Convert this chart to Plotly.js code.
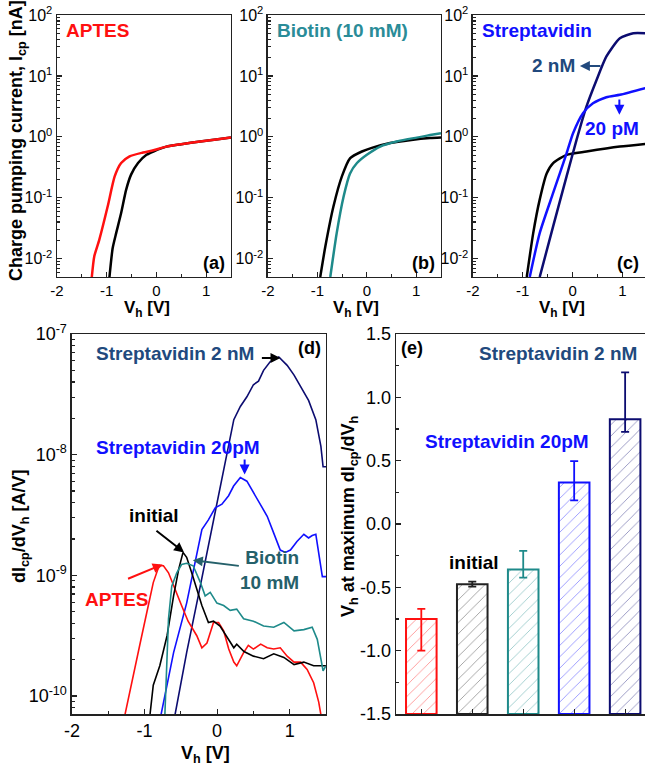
<!DOCTYPE html>
<html>
<head>
<meta charset="utf-8">
<script src="https://cdn.plot.ly/plotly-3.0.1.min.js"></script>
<style>html,body{margin:0;padding:0;background:#fff;}#chart{width:645px;height:767px;}</style>
</head>
<body>
<div id="chart"></div>
<script>
// ---------- DATA ----------
// Panel (a): I_cp [nA] vs V_h [V]
const aAptesX = [-1.30, -1.25, -1.15, -0.98, -0.84, -0.71, -0.54, -0.27, -0.06, 0.2, 0.5, 0.88, 1.2, 1.5];
const aAptesY = [0.005, 0.011, 0.0204, 0.0724, 0.224, 0.372, 0.479, 0.553, 0.603, 0.692, 0.759, 0.838, 0.902, 0.977];
const aInitX = [-0.945, -0.88, -0.81, -0.71, -0.61, -0.51, -0.37, -0.2, -0.06, 0.2, 0.5, 0.88, 1.2, 1.5];
const aInitY = [0.005, 0.015, 0.0263, 0.0562, 0.135, 0.24, 0.372, 0.507, 0.575, 0.692, 0.759, 0.838, 0.902, 0.977];
// Panel (b)
const bInitX = [-0.943, -0.84, -0.675, -0.505, -0.337, -0.1, 0.1, 0.47, 0.9, 1.28, 1.5];
const bInitY = [0.005, 0.0158, 0.0724, 0.224, 0.447, 0.575, 0.66, 0.794, 0.89, 0.955, 0.977];
const bBiotinX = [-0.74, -0.61, -0.47, -0.34, -0.2, 0, 0.27, 0.6, 1.28, 1.5];
const bBiotinY = [0.005, 0.0263, 0.105, 0.251, 0.372, 0.507, 0.692, 0.838, 1.07, 1.15];
// Panel (c)
const cInitX = [-0.92, -0.79, -0.66, -0.52, -0.39, -0.12, 0.28, 0.95, 1.46];
const cInitY = [0.005, 0.0263, 0.0933, 0.251, 0.372, 0.507, 0.575, 0.692, 0.767];
const c20pmX = [-0.86, -0.66, -0.39, -0.12, 0.01, 0.21, 0.41, 0.68, 0.95, 1.46];
const c20pmY = [0.005, 0.0263, 0.12, 0.537, 1.15, 2.45, 3.55, 4.47, 4.9, 6.31];
const c2nmX = [-0.66, -0.39, -0.12, 0.08, 0.28, 0.48, 0.68, 0.95, 1.22, 1.46];
const c2nmY = [0.005, 0.0339, 0.224, 0.891, 3.16, 8.51, 20.9, 41.7, 50.1, 50.1];
// Panel (d): dIcp/dVh [A/V]
const d2nmX = [-0.58, -0.42, -0.233, -0.05, 0.135, 0.23, 0.32, 0.41, 0.50, 0.57, 0.64, 0.73, 0.85, 0.965, 1.06, 1.17, 1.26, 1.36, 1.43, 1.46, 1.50];
const d2nmY = [7e-11, 2.29e-10, 8.1e-10, 2.88e-9, 1.02e-8, 1.95e-8, 2.51e-8, 3.02e-8, 3.8e-8, 4.07e-8, 5.0e-8, 5.89e-8, 6.46e-8, 5.5e-8, 4.57e-8, 3.47e-8, 2.82e-8, 1.95e-8, 1.17e-8, 7.94e-9, 7.94e-9];
const d20pmX = [-0.773, -0.60, -0.42, -0.28, -0.21, -0.12, -0.026, 0.066, 0.158, 0.227, 0.32, 0.41, 0.55, 0.69, 0.78, 0.87, 0.94, 1.01, 1.10, 1.195, 1.26, 1.31, 1.36, 1.40, 1.45, 1.50];
const d20pmY = [7e-11, 2.29e-10, 5.89e-10, 1.55e-9, 2.4e-9, 2.88e-9, 3.63e-9, 3.89e-9, 4.57e-9, 5.5e-9, 6.46e-9, 6.03e-9, 4.27e-9, 3.09e-9, 2.24e-9, 1.62e-9, 1.55e-9, 1.62e-9, 1.91e-9, 2.19e-9, 2.04e-9, 2.14e-9, 2.19e-9, 1.55e-9, 9.77e-10, 9.77e-10];
const dInitX = [-0.925, -0.88, -0.79, -0.69, -0.60, -0.53, -0.47, -0.42, -0.35, -0.28, -0.21, -0.12, -0.05, 0.04, 0.16, 0.23, 0.27, 0.37, 0.50, 0.64, 0.78, 0.92, 1.06, 1.195, 1.33, 1.50];
const dInitY = [7e-11, 1.23e-10, 1.78e-10, 3.16e-10, 6.76e-10, 1.12e-9, 1.55e-9, 1.41e-9, 1.05e-9, 7.59e-10, 5.62e-10, 4.07e-10, 4.17e-10, 3.8e-10, 2.95e-10, 2.51e-10, 2.69e-10, 2.34e-10, 2.14e-10, 2.04e-10, 2.24e-10, 2.09e-10, 1.82e-10, 1.91e-10, 1.78e-10, 1.78e-10];
const dBiotinX = [-0.72, -0.67, -0.625, -0.556, -0.49, -0.42, -0.33, -0.23, -0.165, -0.095, -0.003, 0.09, 0.18, 0.27, 0.365, 0.50, 0.64, 0.78, 0.92, 1.06, 1.195, 1.31, 1.38, 1.46, 1.50];
const dBiotinY = [7e-11, 4.37e-10, 8.13e-10, 1.05e-9, 1.23e-9, 1.26e-9, 1.2e-9, 8.71e-10, 6.76e-10, 7.24e-10, 5.89e-10, 5.62e-10, 5.13e-10, 5.25e-10, 4.37e-10, 4.17e-10, 3.8e-10, 3.72e-10, 4.07e-10, 3.47e-10, 3.55e-10, 3.72e-10, 2.95e-10, 1.62e-10, 1.78e-10];
const dAptesX = [-1.27, -1.18, -1.06, -0.97, -0.88, -0.80, -0.74, -0.67, -0.58, -0.49, -0.40, -0.28, -0.21, -0.14, -0.05, 0.02, 0.09, 0.16, 0.23, 0.27, 0.365, 0.43, 0.50, 0.60, 0.69, 0.78, 0.87, 0.965, 1.06, 1.15, 1.24, 1.33, 1.40, 1.43];
const dAptesY = [7e-11, 1.23e-10, 2.75e-10, 4.9e-10, 8.71e-10, 1.2e-9, 1.2e-9, 1.05e-9, 7.59e-10, 5.62e-10, 4.17e-10, 3.16e-10, 2.51e-10, 2.75e-10, 4.07e-10, 4.07e-10, 3.47e-10, 2.45e-10, 1.91e-10, 1.78e-10, 2.29e-10, 2.63e-10, 2.45e-10, 2.69e-10, 2.51e-10, 2.45e-10, 2.51e-10, 2.14e-10, 1.91e-10, 1.91e-10, 1.66e-10, 1.29e-10, 8.91e-11, 7e-11];
// Panel (e): V_h at maximum dIcp/dVh
const eCategories = ['APTES', 'initial', 'Biotin 10 mM', 'Streptavidin 20pM', 'Streptavidin 2 nM'];
const eValues = [-0.75, -0.475, -0.36, 0.327, 0.827];
const eErrPlus = [0.08, 0.02, 0.148, 0.17, 0.37];
const eErrMinus = [0.25, 0.02, 0.063, 0.14, 0.10];
const eBase = -1.5;
// Tick labels
const xTickVals = [-2, -1, 0, 1];
const xTickText = ['-2', '-1', '0', '1'];
const topTickVals = [0.01, 0.1, 1, 10, 100];
const topTickText = ['10<sup>-2</sup>', '10<sup>-1</sup>', '10<sup>0</sup>', '10<sup>1</sup>', '10<sup>2</sup>'];
const dTickVals = [1e-10, 1e-9, 1e-8, 1e-7];
const dTickText = ['10<sup>-10</sup>', '10<sup>-9</sup>', '10<sup>-8</sup>', '10<sup>-7</sup>'];
const eTickVals = [-1.5, -1.0, -0.5, 0.0, 0.5, 1.0, 1.5];
const eTickText = ['-1.5', '-1.0', '-0.5', '0.0', '0.5', '1.0', '1.5'];

// ---------- STYLE ----------
const FONT = 'Liberation Sans, Arial, Helvetica, sans-serif';
const RED = '#ff1010', BLACK = '#000000', TEAL = '#1e8a8a', BLUE = '#1010ff', NAVY = '#0c0c70';
const NAVYTXT = '#21497d', TEALTXT = '#25606a', TEALTITLE = '#2a8c98';

function line(x, y, color, xa, ya, w, spline) {
  return {x: x, y: y, xaxis: xa, yaxis: ya, type: 'scatter', mode: 'lines',
    line: {color: color, width: w, shape: spline ? 'spline' : 'linear', smoothing: 0.6},
    showlegend: false, hoverinfo: 'skip'};
}

const traces = [
  line(aInitX, aInitY, BLACK, 'x', 'y', 2.5, true),
  line(aAptesX, aAptesY, RED, 'x', 'y', 2.5, true),
  line(bInitX, bInitY, BLACK, 'x2', 'y2', 2.5, true),
  line(bBiotinX, bBiotinY, TEAL, 'x2', 'y2', 2.5, true),
  line(cInitX, cInitY, BLACK, 'x3', 'y3', 2.5, true),
  line(c2nmX, c2nmY, NAVY, 'x3', 'y3', 2.5, true),
  line(c20pmX, c20pmY, BLUE, 'x3', 'y3', 2.5, true),
  line(d2nmX, d2nmY, NAVY, 'x4', 'y4', 1.6, false),
  line(d20pmX, d20pmY, BLUE, 'x4', 'y4', 1.6, false),
  line(dAptesX, dAptesY, RED, 'x4', 'y4', 1.6, false),
  line(dInitX, dInitY, BLACK, 'x4', 'y4', 1.6, false),
  line(dBiotinX, dBiotinY, TEAL, 'x4', 'y4', 1.6, false)
];

const eColors = [RED, '#222222', TEAL, BLUE, NAVY];
traces.push({
  type: 'bar', x: eCategories, y: eValues.map(v => v - eBase), base: eBase,
  xaxis: 'x5', yaxis: 'y5', width: 0.6, showlegend: false, hoverinfo: 'skip',
  marker: {color: 'white', line: {color: eColors, width: 2},
    pattern: {shape: '/', fgcolor: eColors, bgcolor: 'white', size: 8, solidity: 0.1, fillmode: 'overlay'}}
});
eCategories.forEach((c, i) => {
  traces.push({
    type: 'scatter', mode: 'markers', x: [c], y: [eValues[i]], xaxis: 'x5', yaxis: 'y5',
    marker: {size: 1, color: 'rgba(0,0,0,0)'}, showlegend: false, hoverinfo: 'skip',
    error_y: {type: 'data', symmetric: false, array: [eErrPlus[i]], arrayminus: [eErrMinus[i]],
      color: eColors[i], thickness: 1.8, width: 4}
  });
});

const frame = {showline: true, linecolor: '#222', linewidth: 1.5, mirror: true, ticks: 'inside',
  ticklen: 5, tickwidth: 1.2, tickcolor: '#222', showgrid: false, zeroline: false,
  tickfont: {family: FONT, size: 16, color: '#000'}};

function xAx(domain, range, anchor, fs) {
  return Object.assign({}, frame, {domain: domain, range: range, anchor: anchor,
    tickmode: 'array', tickvals: xTickVals, ticktext: xTickText,
    tickfont: {family: FONT, size: fs, color: '#000'},
    minor: {tickmode: 'linear', tick0: -2, dtick: 0.5, ticks: 'inside', ticklen: 3, tickcolor: '#222'}});
}
function topY(anchor) {
  return Object.assign({}, frame, {domain: [0.6389, 0.9804], type: 'log', range: [-2.3, 2], anchor: anchor,
    tickmode: 'array', tickvals: topTickVals, ticktext: topTickText,
    minor: {tickmode: 'linear', dtick: 'D1', ticks: 'inside', ticklen: 3, tickcolor: '#222'}});
}

const layout = {
  width: 645, height: 767, margin: {l: 0, r: 0, t: 0, b: 0},
  paper_bgcolor: 'white', plot_bgcolor: 'white', font: {family: FONT, color: '#000'},
  showlegend: false, barmode: 'overlay',
  xaxis: xAx([0.0884, 0.3581], [-2, 1.5], 'y', 15),
  yaxis: topY('x'),
  xaxis2: xAx([0.4155, 0.6837], [-2, 1.5], 'y2', 15),
  yaxis2: topY('x2'),
  xaxis3: xAx([0.7333, 1.0], [-2, 1.455], 'y3', 15),
  yaxis3: topY('x3'),
  xaxis4: xAx([0.1116, 0.5054], [-2, 1.5], 'y4', 18),
  yaxis4: Object.assign({}, frame, {domain: [0.0691, 0.5645], type: 'log', range: [-10.149, -7], anchor: 'x4',
    tickmode: 'array', tickvals: dTickVals, ticktext: dTickText, tickfont: {family: FONT, size: 18, color: '#000'},
    minor: {tickmode: 'linear', dtick: 'D1', ticks: 'inside', ticklen: 3, tickcolor: '#222'}}),
  xaxis5: Object.assign({}, frame, {domain: [0.614, 1.0], type: 'category', range: [-0.496, 4.39],
    anchor: 'y5', showticklabels: false}),
  yaxis5: Object.assign({}, frame, {domain: [0.0691, 0.5645], range: [-1.5, 1.5], anchor: 'x5',
    tickmode: 'array', tickvals: eTickVals, ticktext: eTickText, tickfont: {family: FONT, size: 18, color: '#000'},
    minor: {tickmode: 'linear', tick0: -1.5, dtick: 0.25, ticks: 'inside', ticklen: 3, tickcolor: '#222'}}),
  annotations: []
};

function txt(text, x, y, xref, yref, color, xanchor, size, align) {
  return {text: '<b>' + text + '</b>', x: x, y: y, xref: xref, yref: yref, showarrow: false,
    xanchor: xanchor || 'left', yanchor: 'middle', align: align || 'left',
    font: {family: FONT, size: size || 19, color: color}};
}
function arrow(x, y, ax, ay, xref, yref, color) {
  return {text: '', x: x, y: y, ax: ax, ay: ay, xref: xref, yref: yref, axref: xref, ayref: yref,
    showarrow: true, arrowhead: 2, arrowsize: 1, arrowwidth: 2, arrowcolor: color, standoff: 0, startstandoff: 0};
}
const A = layout.annotations;
// axis titles (paper coordinates)
function ptitle(text, xpx, ypx, angle, size) {
  return {text: '<b>' + text + '</b>', x: xpx / 645, y: 1 - ypx / 767, xref: 'paper', yref: 'paper',
    showarrow: false, xanchor: 'center', yanchor: 'middle', textangle: angle || 0,
    font: {family: FONT, size: size || 18, color: '#000'}};
}
A.push(ptitle('Charge pumping current, I<sub>cp</sub> [nA]', 17, 141, -90, 18));
A.push(ptitle('V<sub>h</sub> [V]', 147, 309, 0, 17));
A.push(ptitle('V<sub>h</sub> [V]', 356, 309, 0, 17));
A.push(ptitle('V<sub>h</sub> [V]', 562, 309, 0, 17));
A.push(ptitle('dI<sub>cp</sub>/dV<sub>h</sub> [A/V]', 20, 527, -90, 18));
A.push(ptitle('V<sub>h</sub> [V]', 205, 754, 0, 18));
A.push(ptitle('V<sub>h</sub> at maximum dI<sub>cp</sub>/dV<sub>h</sub>', 349, 517, -90, 18));

// panel (a)
A.push(txt('APTES', -1.86, 1.75, 'x', 'y', RED));
A.push(txt('(a)', 1.43, -2.07, 'x', 'y', BLACK, 'right', 18));
// panel (b)
A.push(txt('Biotin (10 mM)', -1.85, 1.75, 'x2', 'y2', TEALTITLE));
A.push(txt('(b)', 1.42, -2.07, 'x2', 'y2', BLACK, 'right', 18));
// panel (c)
A.push(txt('Streptavidin', -1.865, 1.75, 'x3', 'y3', BLUE));
A.push(txt('2 nM', 0.085, 1.164, 'x3', 'y3', NAVYTXT, 'right'));
A.push(arrow(0.147, 1.164, 0.59, 1.164, 'x3', 'y3', NAVYTXT));
A.push(txt('20 pM', 0.207, 0.139, 'x3', 'y3', BLUE));
A.push(arrow(0.94, 0.361, 0.94, 0.639, 'x3', 'y3', BLUE));
A.push(txt('(c)', 1.38, -2.07, 'x3', 'y3', BLACK, 'right', 18));
// panel (d)
A.push(txt('(d)', 1.463, -7.118, 'x4', 'y4', BLACK, 'right', 18));
A.push(txt('Streptavidin 2 nM', -1.70, -7.165, 'x4', 'y4', NAVYTXT));
A.push(arrow(0.873, -7.198, 0.596, -7.198, 'x4', 'y4', BLACK));
A.push(txt('Streptavidin 20pM', -1.70, -7.938, 'x4', 'y4', BLUE));
A.push(arrow(0.379, -8.165, 0.379, -8.027, 'x4', 'y4', BLUE));
A.push(txt('initial', -1.243, -8.508, 'x4', 'y4', BLACK));
A.push(arrow(-0.455, -8.81, -0.857, -8.62, 'x4', 'y4', BLACK));
A.push(txt('Biotin<br>10 mM', 1.153, -8.955, 'x4', 'y4', TEALTXT, 'right', 19, 'right'));
A.push(arrow(-0.335, -8.874, 0.32, -8.923, 'x4', 'y4', TEALTXT));
A.push(txt('APTES', -1.852, -9.202, 'x4', 'y4', RED));
A.push(arrow(-0.75, -8.909, -1.248, -9.033, 'x4', 'y4', RED));
// panel (e)
A.push(txt('(e)', -0.445, 1.387, 'x5', 'y5', BLACK, 'left', 18));
A.push(txt('Streptavidin 2 nM', 1.092, 1.347, 'x5', 'y5', NAVYTXT));
A.push(txt('Streptavidin 20pM', 0.033, 0.655, 'x5', 'y5', BLUE));
A.push(txt('initial', 0.504, -0.304, 'x5', 'y5', BLACK));
A.push(txt('APTES', -0.62, -1.674, 'x5', 'y5', RED));
A.push(txt('Biotin<br>10 mM', 1.955, -1.677, 'x5', 'y5', TEALTXT, 'center', 19, 'center'));

Plotly.newPlot('chart', traces, layout, {staticPlot: true, displayModeBar: false});
</script>
</body>
</html>
